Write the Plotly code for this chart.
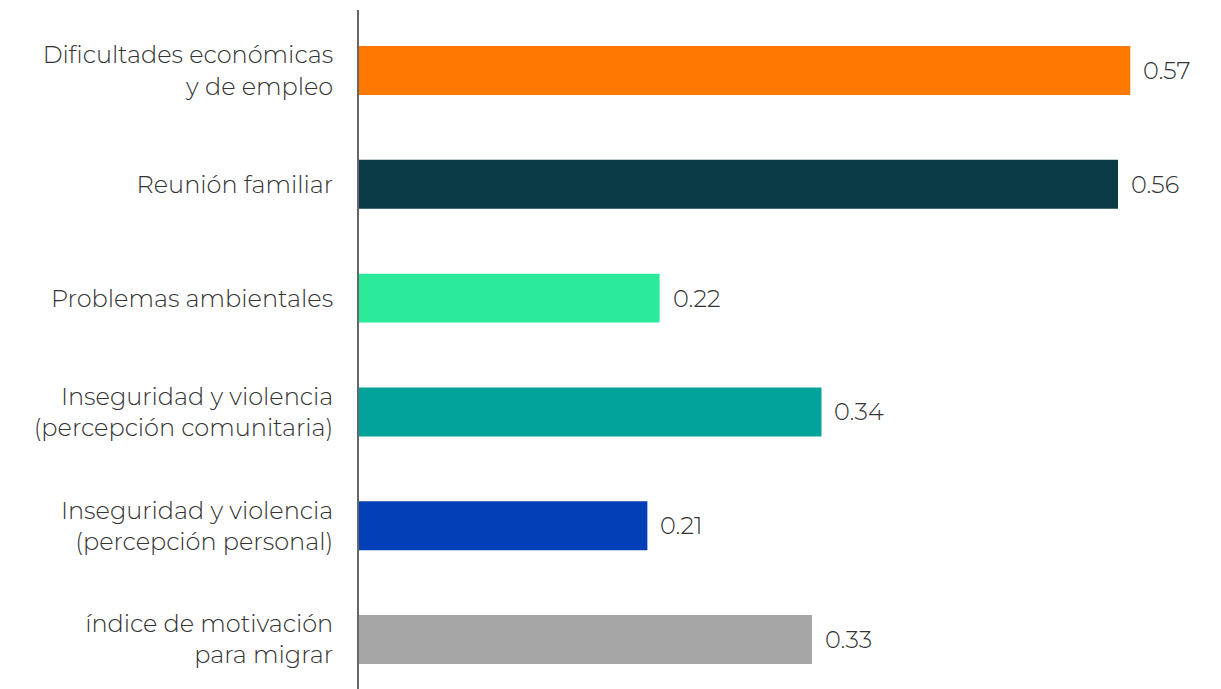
import plotly.graph_objects as go

categories = [
    "Dificultades económicas<br>y de empleo",
    "Reunión familiar",
    "Problemas ambientales",
    "Inseguridad y violencia<br>(percepción comunitaria)",
    "Inseguridad y violencia<br>(percepción personal)",
    "índice de motivación<br>para migrar",
]
values = [0.567, 0.558, 0.221, 0.340, 0.212, 0.333]
colors = ["#FF7800", "#0A3A46", "#2BEB9B", "#01A39A", "#0340B8", "#A6A6A6"]

font_family = "Montserrat, 'Noto Sans', sans-serif"

fig = go.Figure(go.Bar(
    x=values, y=categories, orientation="h",
    marker=dict(color=colors, line=dict(width=0)),
    width=0.43,
    hoverinfo="skip",
))

annotations = [
    dict(x=v, y=c, text=f"{v:.2f}", xanchor="left", yanchor="middle",
         xshift=11, showarrow=False,
         font=dict(size=24, color="#333333", family=font_family, weight=300))
    for c, v in zip(categories, values)
]

# page body has an 8px margin, so margins are reduced to compensate
fig.update_layout(
    width=1221, height=689,
    margin=dict(l=351, r=28, t=2, b=8),
    paper_bgcolor="white", plot_bgcolor="white",
    showlegend=False,
    annotations=annotations,
    font=dict(family=font_family, size=24, color="#333333", weight=300),
)
fig.update_xaxes(range=[0, 0.619], visible=False)
fig.update_yaxes(
    range=[5.435, -0.532],
    showline=True, linecolor="#666666", linewidth=2,
    ticks="", ticklabelstandoff=19,
    showgrid=False, zeroline=False,
)

fig.write_html("out.html")
